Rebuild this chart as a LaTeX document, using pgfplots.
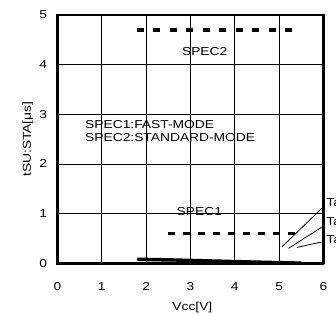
\documentclass[border=0pt]{standalone}
\usepackage{pgfplots}
\pgfplotsset{compat=1.18}
\usepackage{fontspec}
\setmainfont[FakeStretch=1.2]{Liberation Sans}
\begin{document}
\begin{tikzpicture}
\begin{axis}[
  at={(0,0)}, anchor=south west,
  width=266pt, height=248.3pt, scale only axis,
  xmin=0, xmax=6, ymin=0, ymax=5,
  xtick={0,1,2,3,4,5,6}, ytick={0,1,2,3,4,5},
  grid=major, grid style={black, line width=0.8pt},
  major tick length=0pt,
  axis line style={line width=2.2pt},
  tick label style={font=\fontsize{11.5}{13}\selectfont},
  /pgf/number format/assume math mode=true,
  xticklabel style={yshift=-16pt},
  yticklabel style={xshift=-7pt},
  xlabel={Vcc[V]}, ylabel={tSU:STA[μs]},
  label style={font=\fontsize{11.5}{13}\selectfont},
  xlabel style={at={(axis description cs:0.507,-0.18)}, anchor=center},
  ylabel style={at={(axis description cs:-0.1117,0.5)}, anchor=center},
  clip=false,
]
% measured curves (three temperatures, nearly overlapping)
\addplot[black, line width=1.6pt] coordinates {(1.8,0.10) (2.5,0.088) (3.5,0.065) (4.5,0.042) (5.5,0.022)};
\addplot[black, line width=1.6pt] coordinates {(1.8,0.08) (2.5,0.068) (3.5,0.05) (4.5,0.03) (5.5,0.012)};
\addplot[black, line width=1.6pt] coordinates {(1.8,0.06) (2.5,0.05) (3.5,0.035) (4.5,0.02) (5.5,0.006)};
% spec limits
\addplot[black, line width=3.3pt, dash pattern=on 7pt off 9.5pt] coordinates {(1.79,4.7) (5.41,4.7)};
\addplot[black, line width=3.3pt, dash pattern=on 7pt off 8pt] coordinates {(2.5,0.6) (5.40,0.6)};
% leader lines
\addplot[black, line width=0.8pt] coordinates {(5.06,0.33) (6.0,1.14)};
\addplot[black, line width=0.8pt] coordinates {(5.21,0.30) (6.0,0.75)};
\addplot[black, line width=0.8pt] coordinates {(5.40,0.32) (5.96,0.43)};
\node[font=\fontsize{11.5}{13}\selectfont] at (axis cs:3.32,4.27) {SPEC2};
\node[font=\fontsize{11.5}{13}\selectfont] at (axis cs:3.20,1.05) {SPEC1};
\node[font=\fontsize{11.5}{13}\selectfont, anchor=west, inner sep=0pt] at (axis cs:0.62,2.785) {SPEC1:FAST-MODE};
\node[font=\fontsize{11.5}{13}\selectfont, anchor=west, inner sep=0pt] at (axis cs:0.62,2.54) {SPEC2:STANDARD-MODE};
\node[font=\fontsize{11.5}{13}\selectfont, anchor=west, inner sep=0pt] at (axis cs:6.06,1.23) {Ta=-40°C};
\node[font=\fontsize{11.5}{13}\selectfont, anchor=west, inner sep=0pt] at (axis cs:6.06,0.85) {Ta=25°C};
\node[font=\fontsize{11.5}{13}\selectfont, anchor=west, inner sep=0pt] at (axis cs:6.06,0.47) {Ta=85°C};
\draw[line width=3pt] (rel axis cs:0,1) -- (rel axis cs:0,0) -- (rel axis cs:1,0);
\end{axis}
\pgfresetboundingbox
\path[use as bounding box] (-57.5pt,-51.7pt) rectangle (278.5pt,263.3pt);
\end{tikzpicture}
\end{document}
